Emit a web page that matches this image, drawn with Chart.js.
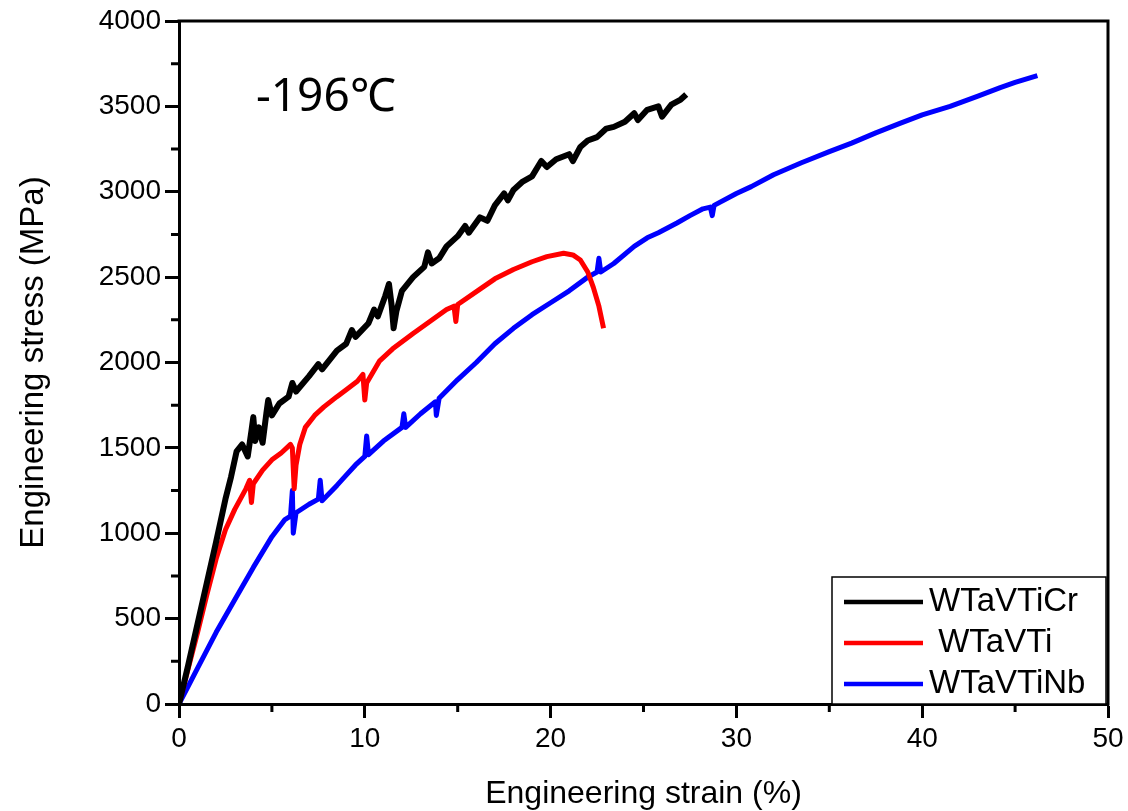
<!DOCTYPE html>
<html>
<head>
<meta charset="utf-8">
<title>Engineering stress-strain at -196℃</title>
<script src="https://cdn.jsdelivr.net/npm/chart.js@4.4.1/dist/chart.umd.min.js"></script>
<style>
  html, body { margin: 0; padding: 0; background: #fff; }
  #wrap { width: 1128px; height: 811px; position: relative; }
</style>
</head>
<body>
<div id="wrap"><canvas id="stressChart"></canvas></div>
<script>
// values (strain in %, stress in MPa)
const crStrain = [0, 0.5, 1.0, 1.5, 2.0, 2.5, 2.8, 3.1, 3.4, 3.7, 3.9, 4.0, 4.1, 4.3, 4.5, 4.7, 4.8, 5.0, 5.4, 5.9, 6.1, 6.3, 7.0, 7.5, 7.7, 8.5, 9.0, 9.3, 9.5, 10.2, 10.5, 10.7, 11.1, 11.3, 11.45, 11.55, 11.7, 12.0, 12.6, 13.2, 13.4, 13.6, 14.0, 14.4, 15.0, 15.4, 15.6, 16.2, 16.6, 17.0, 17.5, 17.7, 18.0, 18.5, 19.0, 19.5, 19.8, 20.3, 21.0, 21.2, 21.6, 22.0, 22.5, 23.0, 23.4, 24.0, 24.5, 24.7, 25.2, 25.8, 26.0, 26.5, 27.0, 27.3];
const crStress = [0, 230, 470, 710, 950, 1200, 1330, 1480, 1520, 1450, 1600, 1680, 1540, 1620, 1530, 1700, 1780, 1690, 1760, 1800, 1880, 1830, 1920, 1990, 1960, 2070, 2110, 2190, 2150, 2230, 2310, 2270, 2390, 2460, 2330, 2200, 2300, 2420, 2500, 2560, 2645, 2580, 2610, 2680, 2740, 2800, 2760, 2850, 2830, 2920, 2990, 2950, 3010, 3060, 3090, 3180, 3145, 3190, 3220, 3180, 3262, 3300, 3320, 3370, 3380, 3410, 3460, 3420, 3480, 3500, 3440, 3510, 3540, 3570];

const tiStrain = [0, 0.5, 1.0, 1.5, 2.0, 2.5, 3.0, 3.3, 3.6, 3.8, 3.9, 4.0, 4.5, 5.0, 5.5, 6.0, 6.1, 6.2, 6.3, 6.5, 6.8, 7.3, 7.8, 8.5, 9.0, 9.6, 9.9, 10.0, 10.1, 10.8, 11.5, 12.6, 13.5, 14.4, 14.8, 14.9, 15.0, 16.2, 17.0, 18.0, 19.0, 19.8, 20.7, 21.2, 21.6, 22.0, 22.3, 22.6, 22.85];
const tiStress = [0, 210, 420, 640, 850, 1020, 1140, 1200, 1260, 1310, 1180, 1290, 1370, 1430, 1470, 1520, 1500, 1260, 1400, 1520, 1620, 1690, 1740, 1800, 1840, 1890, 1930, 1780, 1880, 2010, 2080, 2170, 2240, 2310, 2330, 2240, 2340, 2430, 2490, 2545, 2590, 2620, 2640, 2630, 2600, 2530, 2440, 2330, 2200];

const nbStrain = [0, 1.0, 2.0, 3.0, 4.0, 5.0, 5.7, 6.0, 6.1, 6.15, 6.3, 7.0, 7.5, 7.6, 7.7, 8.5, 9.0, 9.5, 10.0, 10.1, 10.2, 11.0, 12.0, 12.1, 12.2, 13.0, 13.8, 13.85, 14.0, 15.0, 16.0, 17.0, 18.0, 19.0, 20.0, 21.0, 22.0, 22.5, 22.6, 22.7, 23.4, 24.5, 25.2, 25.8, 26.8, 27.5, 28.2, 28.6, 28.7, 28.8, 30.0, 30.8, 32.0, 33.5, 35.0, 36.2, 37.5, 38.8, 40.0, 41.5, 43.0, 44.2, 45.0, 46.2];
const nbStress = [0, 210, 420, 610, 800, 980, 1080, 1100, 1250, 1000, 1120, 1170, 1200, 1310, 1190, 1280, 1340, 1400, 1450, 1570, 1460, 1540, 1620, 1700, 1620, 1700, 1770, 1690, 1790, 1900, 2000, 2110, 2200, 2280, 2350, 2420, 2500, 2530, 2610, 2530, 2580, 2680, 2730, 2760, 2817, 2860, 2900, 2910, 2860, 2920, 2990, 3030, 3100, 3170, 3235, 3285, 3345, 3400, 3450, 3500, 3560, 3610, 3640, 3680];

const seriesLabels = ['WTaVTiCr', ' WTaVTi', 'WTaVTiNb'];
const seriesColors = ['#000000', '#ff0000', '#0000ff'];
const seriesWidths = [6, 5, 5];

const xTicks = [0, 10, 20, 30, 40, 50];
const yTicks = [0, 500, 1000, 1500, 2000, 2500, 3000, 3500, 4000];
const tempLabel = '-196℃';

function toPoints(xs, ys) {
    return xs.map((x, i) => ({ x: x, y: ys[i] }));
}

const FONT = "'Liberation Sans', Arial, sans-serif";

// frame, minor ticks, legend box and temperature label
const extrasPlugin = {
    id: 'extras',
    afterDraw(chart) {
        const ctx = chart.ctx;
        const a = chart.chartArea;
        const xs = chart.scales.x;
        const ys = chart.scales.y;
        ctx.save();
        ctx.strokeStyle = '#000';
        ctx.lineWidth = 3;
        // top and right frame
        ctx.beginPath();
        ctx.moveTo(a.left - 1.5, a.top);
        ctx.lineTo(a.right, a.top);
        ctx.lineTo(a.right, a.bottom + 1.5);
        ctx.stroke();
        // minor ticks
        ctx.beginPath();
        for (let i = 0; i < xTicks.length - 1; i++) {
            const px = xs.getPixelForValue((xTicks[i] + xTicks[i + 1]) / 2);
            ctx.moveTo(px, a.bottom);
            ctx.lineTo(px, a.bottom + 8);
        }
        for (let i = 0; i < yTicks.length - 1; i++) {
            const py = ys.getPixelForValue((yTicks[i] + yTicks[i + 1]) / 2);
            ctx.moveTo(a.left, py);
            ctx.lineTo(a.left - 8, py);
        }
        ctx.stroke();

        // legend
        const bx = 832, by = 577, bw = a.right - 2 - 832, bh = a.bottom - 577;
        ctx.fillStyle = '#fff';
        ctx.fillRect(bx, by, bw, bh);
        ctx.lineWidth = 1.5;
        ctx.strokeRect(bx, by, bw, bh);
        const rows = [602, 643, 684];
        ctx.font = '33px ' + FONT;
        ctx.textBaseline = 'middle';
        ctx.textAlign = 'left';
        chart.data.datasets.forEach((ds, i) => {
            ctx.strokeStyle = ds.borderColor;
            ctx.lineWidth = 4.5;
            ctx.beginPath();
            ctx.moveTo(844, rows[i]);
            ctx.lineTo(923, rows[i]);
            ctx.stroke();
            ctx.fillStyle = '#000';
            ctx.fillText(ds.label, 929, rows[i]);
        });

        // temperature note
        ctx.font = "46px 'Noto Sans', 'Open Sans', sans-serif";
        ctx.textBaseline = 'alphabetic';
        ctx.fillStyle = '#000';
        ctx.fillText(tempLabel, 256, 111);
        ctx.restore();
    }
};

new Chart(document.getElementById('stressChart'), {
    type: 'scatter',
    data: {
        datasets: [
            { label: seriesLabels[0], data: toPoints(crStrain, crStress) },
            { label: seriesLabels[1], data: toPoints(tiStrain, tiStress) },
            { label: seriesLabels[2], data: toPoints(nbStrain, nbStress) }
        ].map((ds, i) => Object.assign(ds, {
            showLine: true,
            borderColor: seriesColors[i],
            backgroundColor: seriesColors[i],
            borderWidth: seriesWidths[i],
            borderJoinStyle: 'round',
            pointRadius: 0,
            tension: 0
        }))
    },
    options: {
        responsive: true,
        maintainAspectRatio: false,
        animation: false,
        layout: { padding: { left: 0, top: 21, right: 20, bottom: 0 } },
        plugins: {
            legend: { display: false },
            tooltip: { enabled: false }
        },
        scales: {
            x: {
                type: 'linear',
                min: 0,
                max: 50,
                afterFit: s => { s.height = 107; },
                afterBuildTicks: s => { s.ticks = xTicks.map(v => ({ value: v })); },
                ticks: {
                    color: '#000',
                    font: { family: FONT, size: 28 },
                    padding: 4,
                    maxRotation: 0,
                    callback: v => String(v)
                },
                grid: { drawOnChartArea: false, drawTicks: true, tickLength: 14, tickWidth: 3, tickColor: '#000' },
                border: { display: true, color: '#000', width: 3 },
                title: {
                    display: true,
                    text: 'Engineering strain (%)',
                    color: '#000',
                    font: { family: FONT, size: 32 },
                    padding: { top: 0, bottom: -2 }
                }
            },
            y: {
                type: 'linear',
                min: 0,
                max: 4000,
                afterFit: s => { s.width = 179; },
                afterBuildTicks: s => { s.ticks = yTicks.map(v => ({ value: v })); },
                ticks: {
                    color: '#000',
                    font: { family: FONT, size: 28 },
                    padding: 4,
                    callback: v => String(v)
                },
                grid: { drawOnChartArea: false, drawTicks: true, tickLength: 14, tickWidth: 3, tickColor: '#000' },
                border: { display: true, color: '#000', width: 3 },
                title: {
                    display: true,
                    text: 'Engineering stress (MPa)',
                    color: '#000',
                    font: { family: FONT, size: 33 },
                    padding: { top: 14, bottom: 0 }
                }
            }
        }
    },
    plugins: [extrasPlugin]
});
</script>
</body>
</html>
